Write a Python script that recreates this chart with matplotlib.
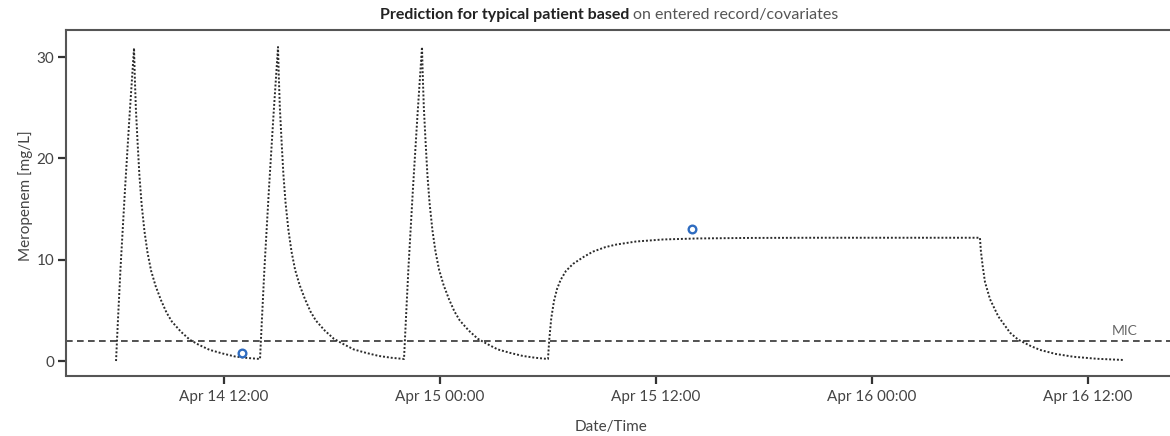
# Meropenem prediction plot (typical patient)
from datetime import datetime, timedelta
import matplotlib
matplotlib.use('Agg')
import matplotlib.pyplot as plt
import matplotlib.dates as mdates

plt.rcParams['font.family'] = ['Lato', 'DejaVu Sans']

# hours since Apr 14 00:00 and predicted concentration [mg/L]
dose1_h = [6.0, 6.1, 6.25, 6.5, 6.75, 7.0, 7.04, 7.1, 7.2, 7.3, 7.42, 7.58, 7.75, 7.95, 8.2,
           8.5, 8.8, 9.1, 9.6, 10.1, 10.6, 11.2, 11.9, 12.6, 13.3, 14.0]
dose1_c = [0.0, 3.8, 9.2, 17.0, 24.2, 30.9, 28.2, 25.0, 21.5, 18.3, 15.5, 12.8, 10.7, 8.9, 7.4,
           6.0, 4.8, 3.9, 2.9, 2.1, 1.6, 1.1, 0.75, 0.45, 0.3, 0.2]
dose2_h = [14.0, 14.1, 14.25, 14.5, 14.75, 15.0, 15.04, 15.1, 15.2, 15.3, 15.42, 15.58, 15.75, 15.95, 16.2,
           16.5, 16.8, 17.1, 17.6, 18.1, 18.6, 19.2, 19.9, 20.6, 21.3, 22.0]
dose2_c = [0.2, 3.9, 9.3, 17.1, 24.3, 31.0, 28.3, 25.1, 21.6, 18.4, 15.6, 12.9, 10.8, 9.0, 7.5,
           6.1, 4.9, 4.0, 3.0, 2.2, 1.7, 1.15, 0.8, 0.5, 0.32, 0.2]
dose3_h = [22.0, 22.1, 22.25, 22.5, 22.75, 23.0, 23.04, 23.1, 23.2, 23.3, 23.42, 23.58, 23.75, 23.95, 24.2,
           24.5, 24.8, 25.1, 25.6, 26.1, 26.6, 27.2, 27.9, 28.6, 29.3, 30.0]
dose3_c = [0.2, 3.9, 9.3, 17.1, 24.3, 31.0, 28.3, 25.1, 21.6, 18.4, 15.6, 12.9, 10.8, 9.0, 7.5,
           6.1, 4.9, 4.0, 3.0, 2.2, 1.7, 1.15, 0.8, 0.5, 0.32, 0.2]
# continuous infusion Apr 15 06:00 - Apr 16 06:00
inf_h = [30.0, 30.07, 30.18, 30.33, 30.5, 30.7, 31.0, 31.4, 32.0, 32.5, 33.2, 33.8, 34.9, 36.4,
         38.3, 41.0, 45.0, 50.0, 54.0, 54.05, 54.15, 54.28, 54.56, 55.02, 55.67, 56.13, 56.8,
         57.33, 58.2, 59.2, 60.5, 62.0]
inf_c = [0.2, 2.1, 4.2, 5.9, 7.1, 8.0, 8.9, 9.6, 10.3, 10.8, 11.25, 11.5, 11.8, 12.0,
         12.1, 12.15, 12.17, 12.17, 12.17, 10.9, 9.4, 7.8, 6.1, 4.4, 2.8, 2.1, 1.5,
         1.1, 0.7, 0.42, 0.22, 0.1]

# measured levels
obs_h = [13.0, 38.0]
obs_c = [0.75, 13.0]

mic = 2.0
x_range_h = [3.22, 64.56]
y_range = [-1.43, 32.68]
y_ticks = [0, 10, 20, 30]

base = datetime(2024, 4, 14)


def to_dt(hours):
    return [base + timedelta(hours=h) for h in hours]


pred_h = dose1_h + dose2_h[1:] + dose3_h[1:] + inf_h[1:]
pred_c = dose1_c + dose2_c[1:] + dose3_c[1:] + inf_c[1:]

fig = plt.figure(figsize=(11.7, 4.36), dpi=100)
W, H = 1170, 436
ax = fig.add_axes([66 / W, 1 - 375.5 / H, 1 - 66 / W, (375.5 - 30) / H])

# prediction (dotted)
ax.plot(to_dt(pred_h), pred_c, color='#2b2b2b', lw=1.4, linestyle=(0, (1, 1)), zorder=3)
# MIC line
ax.axhline(mic, color='#333333', lw=1.2, linestyle=(0, (4, 2.6)), zorder=2)
ax.text(base + timedelta(hours=62.06), 2.95, 'MIC', ha='center', va='center',
        fontsize=10, color='#666666')
# observations
ax.plot(to_dt(obs_h), obs_c, linestyle='none', marker='o', markersize=5.5,
        mfc='white', mec='#2f6cc0', mew=1.7, zorder=4)

ax.set_xlim(to_dt(x_range_h))
ax.set_ylim(y_range)
ax.set_yticks(y_ticks)

ax.xaxis.set_major_locator(mdates.HourLocator(byhour=[0, 12]))
ax.xaxis.set_major_formatter(mdates.DateFormatter('%b %d %H:%M'))

for side in ['top', 'left', 'bottom']:
    ax.spines[side].set_color('#555555')
    ax.spines[side].set_linewidth(1.5)
ax.spines['right'].set_visible(False)

ax.tick_params(axis='both', direction='out', length=5.5, width=1.6, color='#333333',
               labelsize=11, labelcolor='#444444')
ax.tick_params(axis='x', pad=5)
ax.tick_params(axis='y', pad=3)

ax.set_xlabel('Date/Time', fontsize=11, color='#444444')
ax.xaxis.set_label_coords((611 - 66) / 1104, -0.128)
ax.set_ylabel('Meropenem [mg/L]', fontsize=11, color='#444444')
ax.yaxis.set_label_coords(-0.03, 0.52)

# title: bold first part, plain second part
fig.text(629 / W, 1 - 14.5 / H, 'Prediction for typical patient based', ha='right', va='center',
         fontsize=11.5, fontweight='bold', color='#222222')
fig.text(633 / W, 1 - 14.5 / H, 'on entered record/covariates', ha='left', va='center',
         fontsize=11.5, color='#555555')

fig.savefig('out.png', dpi=100)
